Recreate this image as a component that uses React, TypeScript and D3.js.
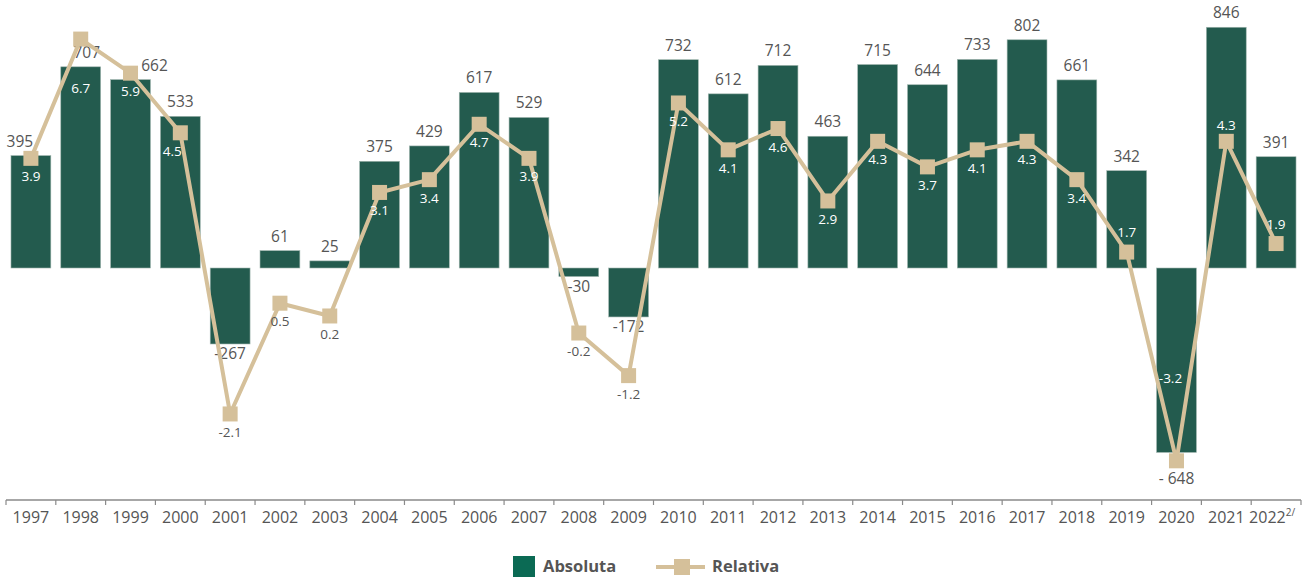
import React from "react";
import * as d3 from "d3";

const years = ["1997","1998","1999","2000","2001","2002","2003","2004","2005","2006","2007","2008","2009","2010","2011","2012","2013","2014","2015","2016","2017","2018","2019","2020","2021","2022"];
const absoluta = [395,707,662,533,-267,61,25,375,429,617,529,-30,-172,732,612,712,463,715,644,733,802,661,342,-648,846,391];
const relativa = [3.9,6.7,5.9,4.5,-2.1,0.5,0.2,3.1,3.4,4.7,3.9,-0.2,-1.2,5.2,4.1,4.6,2.9,4.3,3.7,4.1,4.3,3.4,1.7,-3.2,4.3,1.9];

// label nudges (layout only)
const barLabelDx: Record<string, number> = { "1997": -11, "1998": 6, "1999": 24 };
const barLabelDy: Record<string, number> = { "2020": 17 };
const lineLabelDy: Record<string, number> = { "1998": 31, "2019": -38, "2020": -101, "2021": -34, "2022": -38 };
const lineLabelDx: Record<string, number> = { "2000": -8, "2020": -6 };

const W = 1309, H = 577;
const BAR = "#235b4e", LINE = "#d5c09a", TEXT = "#555555";
const FONT = "'Open Sans', 'Noto Sans', sans-serif";

export default function App() {
  const x = d3.scaleBand<string>().domain(years).range([6, 1301]).paddingInner(0.2).paddingOuter(0.1);
  const yBar = d3.scaleLinear().domain([-700, 900]).range([467.2, 11.9]);
  const yLine = d3.scaleLinear().domain([-4, 8]).range([494.9, -16.3]);
  const zero = yBar(0);
  const step = x.step();
  const axisY = 500;

  const linePath = d3.line<number>()
    .x((_, i) => x(years[i])! + x.bandwidth() / 2)
    .y((d) => yLine(d))(relativa);

  const fmtAbs = (v: number) => (v === -648 ? "- 648" : String(v));

  return (
    <svg width={W} height={H} style={{ position: "absolute", left: 0, top: 0 }} fontFamily={FONT}>
      <rect width={W} height={H} fill="#fff" />
      {years.map((yr, i) => {
        const v = absoluta[i];
        const y0 = yBar(Math.max(0, v));
        const h = Math.abs(yBar(v) - zero);
        return (
          <rect key={yr} x={x(yr)} y={y0} width={x.bandwidth()} height={h}
            fill={BAR} stroke="#9fb5ae" strokeWidth={0.6} />
        );
      })}
      {years.map((yr, i) => {
        const v = absoluta[i];
        const cx = x(yr)! + x.bandwidth() / 2 + (barLabelDx[yr] || 0);
        const ty = (v >= 0 ? yBar(v) - 9 : yBar(v) + 15) + (barLabelDy[yr] || 0);
        return (
          <text key={yr} x={cx} y={ty} textAnchor="middle" fontSize={15.5} fill={TEXT}>
            {fmtAbs(v)}
          </text>
        );
      })}
      <path d={linePath!} fill="none" stroke={LINE} strokeWidth={4} strokeLinejoin="round" />
      {years.map((yr, i) => {
        const cx = x(yr)! + x.bandwidth() / 2;
        const cy = yLine(relativa[i]);
        return <rect key={yr} x={cx - 7.5} y={cy - 7.5} width={15} height={15} fill={LINE} />;
      })}
      {years.map((yr, i) => {
        const v = relativa[i];
        const cx = x(yr)! + x.bandwidth() / 2 + (lineLabelDx[yr] || 0);
        const ty = yLine(v) + 23 + (lineLabelDy[yr] || 0);
        const a = absoluta[i];
        const top = Math.min(zero, yBar(a));
        const bot = Math.max(zero, yBar(a));
        const inside = ty - 5 > top && ty - 5 < bot;
        return (
          <text key={yr} x={cx} y={ty} textAnchor="middle" fontSize={13.5} fill={inside ? "#ffffff" : TEXT}>
            {v.toFixed(1)}
          </text>
        );
      })}
      {/* x axis */}
      <line x1={6} x2={1301} y1={axisY} y2={axisY} stroke="#8a8a8a" strokeWidth={1.5} />
      {d3.range(years.length + 1).map((k) => (
        <line key={k} x1={6 + k * step} x2={6 + k * step} y1={axisY} y2={axisY + 5} stroke="#8a8a8a" strokeWidth={1.2} />
      ))}
      {years.map((yr) => (
        <text key={yr} x={x(yr)! + x.bandwidth() / 2 + (yr === "2022" ? -4 : 0)} y={axisY + 23}
          textAnchor="middle" fontSize={16} fill={TEXT}>
          {yr}
          {yr === "2022" && <tspan fontSize={10} dy={-7}>2/</tspan>}
        </text>
      ))}
      {/* legend */}
      <rect x={513} y={556} width={22} height={22} fill="#0b6a54" />
      <text x={543} y={572} fontSize={16.5} fontWeight="bold" fill={TEXT}>Absoluta</text>
      <line x1={656} x2={705} y1={567} y2={567} stroke={LINE} strokeWidth={4} />
      <rect x={674} y={559} width={16} height={16} fill={LINE} />
      <text x={712} y={572} fontSize={16.5} fontWeight="bold" fill={TEXT}>Relativa</text>
    </svg>
  );
}
